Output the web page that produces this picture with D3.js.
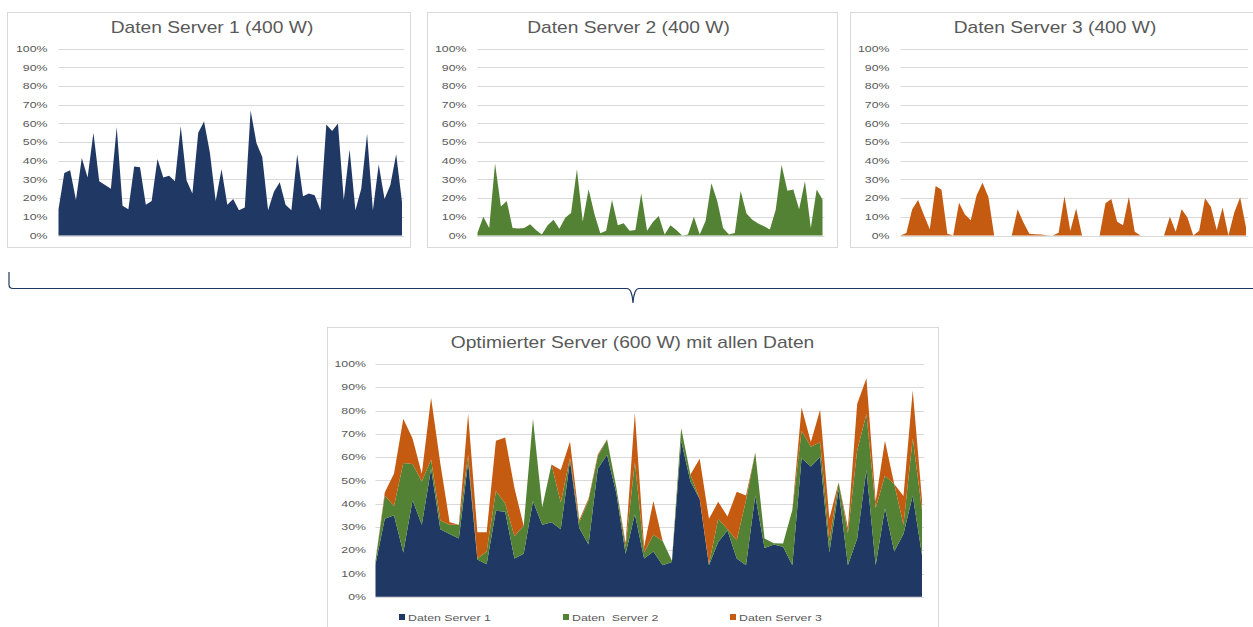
<!DOCTYPE html>
<html>
<head>
<meta charset="utf-8">
<script src="https://cdn.jsdelivr.net/npm/d3@7"></script>
<style>
  html, body { margin: 0; padding: 0; background: #ffffff; }
  svg { display: block; font-family: "Liberation Sans", Arial, Helvetica, sans-serif; }
</style>
</head>
<body>
<svg id="chart" width="1253" height="627"></svg>
<script>
// ---- data: utilisation per time slot (percent of each server's capacity) ----
const timeSlots = d3.range(60);
const server1 = [14, 33.5, 35, 19, 41.5, 31, 55, 29, 27, 25, 58, 16, 14, 37, 36.5, 16.5, 18.5, 41, 31, 32,
                 29, 58.5, 29.5, 22.5, 55, 61, 44.5, 18.5, 35.5, 16.5, 19.5, 13.5, 15, 67, 49.5, 42, 13.5, 23.5, 28.5, 16.5,
                 13.5, 43.5, 21, 22.5, 21.5, 13.5, 59.5, 56, 60, 19, 46, 13.5, 25, 54.5, 13.5, 38, 19.5, 27, 43.5, 18];
const server2 = [1.5, 10, 4, 38.5, 15.5, 18.5, 4, 3.8, 4, 6, 3, 0.5, 5.5, 8.5, 3.6, 9.5, 12, 35.5, 7.5, 24.8,
                 11.5, 1.2, 2.5, 19, 5.5, 6.5, 2.5, 3, 22.5, 2.5, 7.2, 10.5, 0.5, 5.5, 3, 0, 0.5, 10, 0.5, 7.8,
                 28, 18.5, 4, 0.5, 1.4, 23.8, 11.8, 8.5, 6.4, 5, 3.2, 13.8, 37.8, 24, 24.6, 14, 29, 4, 24.6, 19.3];
const server3 = [0, 1.3, 14, 19, 11, 3.4, 26.5, 24.5, 1, 0, 17.5, 11.2, 8.2, 21.5, 28.3, 20.7, 0, 0, 0, 0,
                 14, 7, 1, 0.7, 0.6, 0.2, 0, 1.5, 21, 2.5, 14.5, 0, 0, 0, 0, 17.3, 19.5, 7.3, 5.5, 20.8,
                 2, 0, 0, 0, 0, 0, 10, 2, 14, 9.6, 0, 2.5, 20, 15.4, 2.9, 15, 0, 12.3, 20.5, 4.3];

const seriesKeys   = ["s1", "s2", "s3"];
const seriesNames  = ["Daten Server 1", "Daten  Server 2", "Daten Server 3"];
const seriesColors = ["#1F3864", "#548235", "#C55A11"];
const panelTitles  = ["Daten Server 1 (400 W)", "Daten Server 2 (400 W)", "Daten Server 3 (400 W)"];
const combinedTitle = "Optimierter Server (600 W) mit allen Daten";
const yTicks = [0, 10, 20, 30, 40, 50, 60, 70, 80, 90, 100];

// ---- styling ----
const TEXT = "#595959", GRID = "#d9d9d9", FRAME = "#d9d9d9";
const svg = d3.select("#chart");

function label(g, x, y, txt, size, sx, anchor) {
  return g.append("text")
    .attr("transform", `translate(${x},${y}) scale(${sx},1)`)
    .attr("text-anchor", anchor)
    .attr("font-size", size)
    .attr("fill", TEXT)
    .text(txt);
}

function frame(box) {
  svg.append("rect")
    .attr("x", box.x + 0.5).attr("y", box.y + 0.5)
    .attr("width", box.w).attr("height", box.h)
    .attr("fill", "#ffffff").attr("stroke", FRAME).attr("stroke-width", 1);
}

function grid(g, x, y, gap) {
  g.selectAll("line.grid").data(yTicks).join("line")
    .attr("class", "grid")
    .attr("x1", x.range()[0]).attr("x2", x.range()[1] + 2)
    .attr("y1", d => Math.round(y(d)) + 0.5).attr("y2", d => Math.round(y(d)) + 0.5)
    .attr("stroke", GRID).attr("stroke-width", 1);
  yTicks.forEach(t => label(g, x.range()[0] - gap, y(t) + 3.2, t + "%", 9, 1.37, "end"));
}

// ---- three single-server panels ----
const panels = [
  { box: { x: 7,   y: 12, w: 403, h: 235 }, x0: 58.5,  x1: 402,  titleX: 212,  values: server1 },
  { box: { x: 427, y: 12, w: 410, h: 235 }, x0: 477.5, x1: 822.5, titleX: 628.5, values: server2 },
  { box: { x: 850, y: 12, w: 420, h: 235 }, x0: 900.5, x1: 1246, titleX: 1055, values: server3 }
];

panels.forEach((p, i) => {
  frame(p.box);
  const g = svg.append("g");
  const x = d3.scaleLinear().domain([0, timeSlots.length - 1]).range([p.x0, p.x1]);
  const y = d3.scaleLinear().domain([0, 100]).range([235.5, 48.8]);
  grid(g, x, y, 11);
  const area = d3.area()
    .x(d => x(d))
    .y0(y(0))
    .y1(d => y(p.values[d]));
  g.append("path").datum(timeSlots).attr("d", area).attr("fill", seriesColors[i]);
  label(g, p.titleX, 33.3, panelTitles[i], 16, 1.2, "middle");
});

// ---- brace linking the panels to the combined server ----
svg.append("path")
  .attr("d", "M9,272 L9,284.5 Q9,288.5 13,288.5 L627,288.5 Q632,288.5 633,303 Q634,288.5 639,288.5 L1253,288.5")
  .attr("fill", "none").attr("stroke", "#1F3864").attr("stroke-width", 1.2);

// ---- combined, stacked chart ----
const cBox = { x: 327, y: 327, w: 611, h: 310 };
frame(cBox);
const cg = svg.append("g");
const cx = d3.scaleLinear().domain([0, timeSlots.length - 1]).range([375.5, 922]);
const cy = d3.scaleLinear().domain([0, 100]).range([596.8, 364]);
grid(cg, cx, cy, 9.5);

const rows = timeSlots.map(i => ({ i, s1: server1[i], s2: server2[i], s3: server3[i] }));
const stacked = d3.stack().keys(seriesKeys)(rows);
const cArea = d3.area()
  .x(d => cx(d.data.i))
  .y0(d => cy(d[0]))
  .y1(d => cy(d[1]));
cg.selectAll("path.layer").data(stacked).join("path")
  .attr("class", "layer")
  .attr("d", cArea)
  .attr("fill", (d, k) => seriesColors[k]);

label(cg, 632.5, 347.7, combinedTitle, 16, 1.2, "middle");

// legend
const legendX = [399, 563, 730];
seriesNames.forEach((name, k) => {
  cg.append("rect").attr("x", legendX[k]).attr("y", 614).attr("width", 6).attr("height", 6)
    .attr("fill", seriesColors[k]);
  label(cg, legendX[k] + 9, 620.5, name, 9, 1.37, "start").attr("xml:space", "preserve").style("white-space", "pre");
});
</script>
</body>
</html>
